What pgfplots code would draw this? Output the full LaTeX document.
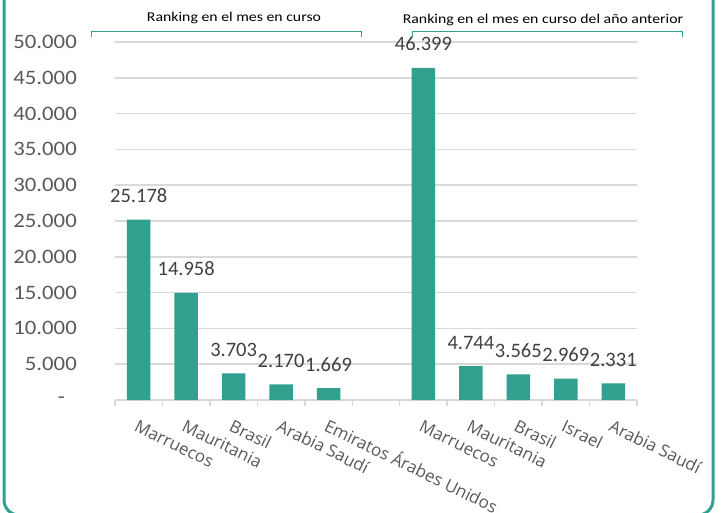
\documentclass[border=0pt]{standalone}
\usepackage{pgfplots}
\pgfplotsset{compat=1.18}
\usepackage{fontspec}
\setmainfont{Carlito}
\newfontfamily\tickfont{Carlito}[FakeStretch=1.11]
\newfontfamily\headfont{Carlito}[FakeStretch=1.17]
\newfontfamily\xlab{Open Sans}
\definecolor{barteal}{HTML}{31A08F}
\definecolor{gridgray}{HTML}{D9D9D9}
\definecolor{txtgray}{HTML}{595959}
\definecolor{lblgray}{HTML}{404040}
\begin{document}
\begin{tikzpicture}
\begin{axis}[
  at={(115bp,113bp)}, anchor=south west,
  scale only axis, width=522bp, height=358bp,
  xmin=-0.5, xmax=10.5, ymin=0, ymax=50000,
  axis lines*=left,
  x axis line style={draw=gridgray, line width=1.5bp},
  y axis line style={draw=none},
  ytick={5000,10000,...,50000},
  yticklabels={5.000,10.000,15.000,20.000,25.000,30.000,35.000,40.000,45.000,50.000},
  extra y ticks={0},
  extra y tick labels={-},
  extra y tick style={yticklabel style={xshift=-12bp}},
  scaled y ticks=false,
  ytick style={draw=none},
  yticklabel style={font=\tickfont\fontsize{20.5bp}{22bp}\selectfont, text=txtgray, inner sep=0pt, xshift=-38bp},
  ymajorgrids, major grid style={draw=gridgray, line width=1.5bp},
  xtick={0,...,10},
  xticklabels={Marruecos,Mauritania,Brasil,Arabia Saudí,Emiratos Árabes Unidos,,Marruecos,Mauritania,Brasil,Israel,Arabia Saudí},
  minor xtick={-0.5,0.5,...,10.5},
  tick align=outside,
  major tick length=0pt,
  minor tick length=6bp,
  minor x tick style={draw=gridgray, line width=1.5bp},
  xticklabel style={font=\xlab\fontsize{17bp}{19bp}\selectfont, text=txtgray, inner sep=0pt, text height=12.5bp, text depth=4bp, anchor=north west, xshift=0bp, yshift=-19bp, rotate=-26},
  ybar, bar width=23.5bp,
  nodes near coords={\pgfmathprintnumber[assume math mode=true,1000 sep={.},fixed,precision=0]{\pgfplotspointmeta}},
  every node near coord/.append style={font=\fontsize{20.5bp}{22bp}\selectfont, text=lblgray, anchor=base, yshift=17bp, inner sep=0pt},
  clip=false,
]
\addplot[fill=barteal, draw=none] coordinates {
  (0,25178) (1,14958) (2,3703) (3,2170) (4,1669)
  (6,46399) (7,4744) (8,3565) (9,2969) (10,2331)
};
\end{axis}
% brackets
\draw[barteal, line width=1bp] (91bp,476bp) -- (91bp,481bp) -- (361bp,481bp) -- (361bp,476bp);
\draw[barteal, line width=1bp] (412bp,476bp) -- (412bp,481bp) -- (682bp,481bp) -- (682bp,476bp);
\node[font=\headfont\fontsize{13.5bp}{15bp}\selectfont, text=black, inner sep=0pt] at (234bp,495bp) {Ranking en el mes en curso};
\node[font=\headfont\fontsize{13.5bp}{15bp}\selectfont, text=black, inner sep=0pt] at (543bp,493bp) {Ranking en el mes en curso del año anterior};
% frame
\draw[barteal, line width=3bp, rounded corners=15bp] (4bp,530bp) -- (4bp,-2bp) -- (713bp,-2bp) -- (713bp,530bp);
\pgfresetboundingbox
\useasboundingbox (0,0) rectangle (723bp,513bp);
\end{tikzpicture}
\end{document}
